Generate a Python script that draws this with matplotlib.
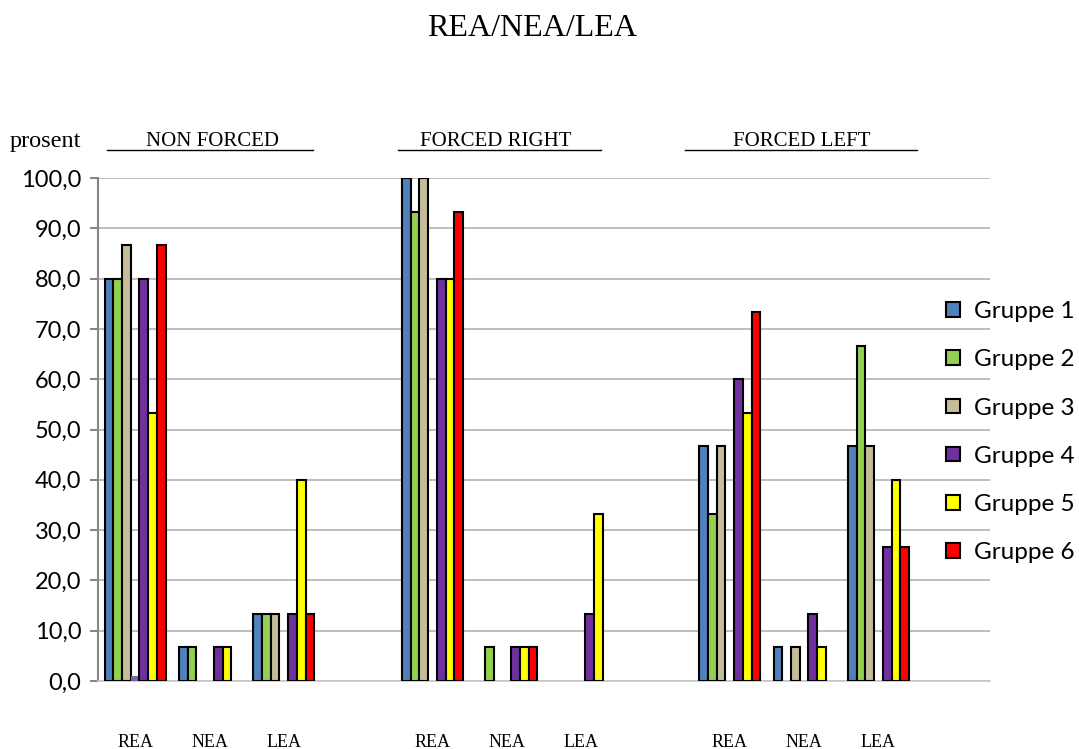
import numpy as np
import matplotlib
matplotlib.use('Agg')
import matplotlib.pyplot as plt

# category slots: three blocks of REA/NEA/LEA, each followed by an empty slot
categories = ['REA', 'NEA', 'LEA', '', 'REA', 'NEA', 'LEA', '', 'REA', 'NEA', 'LEA', '']
blocks = ['NON FORCED', 'FORCED RIGHT', 'FORCED LEFT']
groups = ['Gruppe 1', 'Gruppe 2', 'Gruppe 3', 'Gruppe 4', 'Gruppe 5', 'Gruppe 6']

gruppe1 = [80.0, 6.7, 13.3, 0, 100.0, 0.0, 0.0, 0, 46.7, 6.7, 46.7, 0]
gruppe2 = [80.0, 6.7, 13.3, 0, 93.3, 6.7, 0.0, 0, 33.3, 0.0, 66.7, 0]
gruppe3 = [86.7, 0.0, 13.3, 0, 100.0, 0.0, 0.0, 0, 46.7, 6.7, 46.7, 0]
gruppe4 = [80.0, 6.7, 13.3, 0, 80.0, 6.7, 13.3, 0, 60.0, 13.3, 26.7, 0]
gruppe5 = [53.3, 6.7, 40.0, 0, 80.0, 6.7, 33.3, 0, 53.3, 6.7, 40.0, 0]
gruppe6 = [86.7, 0.0, 13.3, 0, 93.3, 6.7, 0.0, 0, 73.3, 0.0, 26.7, 0]
# unlabelled series sitting between Gruppe 3 and Gruppe 4
extra = [1.0, 0, 0, 0, 0, 0, 0, 0, 0, 0, 0, 0]

colors = ['#4F81BD', '#92D050', '#C4BD97', '#7030A0', '#FFFF00', '#FF0000']

fig = plt.figure(figsize=(10.79, 7.49), dpi=100)
ax = fig.add_axes([0.0908, 0.0908, 0.8267, 0.6715])

x = np.arange(len(categories))
w = 0.117
series = [gruppe1, gruppe2, gruppe3, extra, gruppe4, gruppe5, gruppe6]
slot_colors = colors[:3] + ['#8064A2'] + colors[3:]
for j, vals in enumerate(series):
    vals = np.array(vals, dtype=float)
    keep = vals > 0  # empty bars draw nothing
    off = (j - 3) * w
    if j == 3:
        ax.bar(x[keep] + off, vals[keep], w, color=slot_colors[j], edgecolor='none', zorder=3)
    else:
        ax.bar(x[keep] + off, vals[keep], w, color=slot_colors[j], edgecolor='black',
               linewidth=1.5, zorder=3, label=groups[j if j < 3 else j - 1])

ax.set_xlim(-0.5, len(categories) - 0.5)
ax.set_ylim(0, 100)
ax.set_yticks(np.arange(0, 101, 10))
ax.set_yticklabels([f'{v:.1f}'.replace('.', ',') for v in range(0, 101, 10)],
                   fontsize=17, family='Lato')
ax.set_xticks(x)
ax.set_xticklabels(categories, fontsize=13, family='Liberation Serif')
ax.tick_params(axis='x', length=0, pad=38)
ax.tick_params(axis='y', length=6, width=1.5, color='#868686', pad=6)

ax.yaxis.grid(True, color='#b3b3b3', linewidth=1.2, zorder=0)
ax.set_axisbelow(True)
for s in ['top', 'right']:
    ax.spines[s].set_visible(False)
ax.spines['left'].set_color('#868686')
ax.spines['left'].set_linewidth(1.5)
ax.spines['bottom'].set_color('#c8c8c8')
ax.spines['bottom'].set_linewidth(1.2)

fig.text(0.493, 0.962, 'REA/NEA/LEA', ha='center', va='center',
         fontsize=23, family='Liberation Serif')
fig.text(0.009, 0.811, 'prosent', ha='left', va='center',
         fontsize=17.5, family='Liberation Serif')

# block headers with a rule underneath
header_pos = [(212, 107, 313), (496, 398, 601), (802, 685, 917)]
for name, (xc, x0, x1) in zip(blocks, header_pos):
    fig.text(xc / 1079, 0.811, name, ha='center', va='center',
             fontsize=15, family='Liberation Serif')
    fig.add_artist(plt.Line2D([x0 / 1079, x1 / 1079], [0.800, 0.800],
                              color='black', linewidth=1.0))

ax.legend(loc='upper left', bbox_to_anchor=(0.877, 0.598), bbox_transform=fig.transFigure,
          frameon=False, borderpad=0, borderaxespad=0, prop={'family': 'Lato', 'size': 17.5},
          handlelength=0.55, handleheight=0.55, handletextpad=0.6, labelspacing=1.12)

fig.savefig('out.png', dpi=100)
